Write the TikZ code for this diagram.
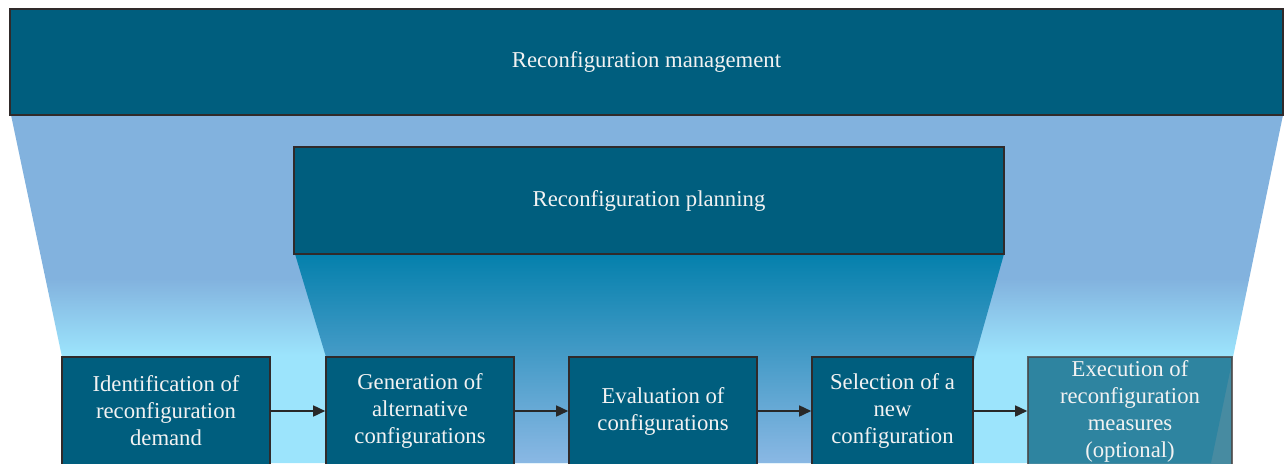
\documentclass[tikz,border=0pt]{standalone}
\usepackage{fontspec}
\setmainfont{Liberation Serif}
\usetikzlibrary{arrows.meta}
\definecolor{boxblue}{RGB}{0,94,126}
\definecolor{steelb}{RGB}{130,178,222}
\definecolor{cyanl}{RGB}{156,228,252}
\definecolor{innertop}{RGB}{4,128,172}
\definecolor{innerbot}{RGB}{138,184,228}
\definecolor{edgec}{RGB}{48,42,42}
\definecolor{txt}{RGB}{242,242,242}
\definecolor{arrowc}{RGB}{40,40,40}
\definecolor{execfill}{RGB}{10,100,130}
\pgfdeclareverticalshading{funnelshade}{100bp}{color(0bp)=(cyanl); color(40.5bp)=(cyanl); color(51.5bp)=(steelb); color(100bp)=(steelb)}
\begin{document}
\begin{tikzpicture}[x=1pt,y=-1pt,
  darkbox/.style={draw=edgec, line width=1.6pt, fill=boxblue, text=txt, align=center,
    inner sep=0pt, font=\fontsize{22.7}{27}\selectfont},
  stepbox/.style={darkbox, minimum height=108pt},
  execbox/.style={stepbox, fill=execfill, fill opacity=0.75, draw=edgec!70!gray, draw opacity=0.8, text opacity=1},
  arr/.style={draw=arrowc, line width=1.6pt, -{Triangle[length=12pt,width=11pt]}}
]
\useasboundingbox (0,0) rectangle (1284,463);
\clip (0,0) rectangle (1284,463);
% outer funnel
\shade[shading=funnelshade] (11,115) -- (1283,115) -- (1233,357) -- (1211,463) -- (84,463) -- (62,357) -- cycle;
% inner funnel
\shade[top color=innertop, bottom color=innerbot] (295,254) -- (1004,254) -- (975,357) -- (945,463) -- (358,463) -- (326,357) -- cycle;
% boxes
\node[darkbox, minimum width=1273pt, minimum height=106pt] (mgmt) at (646.5,62) {Reconfiguration management};
\node[darkbox, minimum width=710pt, minimum height=107pt] (plan) at (649,200.5) {Reconfiguration planning};
\node[stepbox, minimum width=208pt] (b1) at (166,411) {Identification of\\reconfiguration\\demand};
\node[stepbox, minimum width=188pt] (b2) at (420,411) {Generation of\\alternative\\configurations};
\node[stepbox, minimum width=188pt] (b3) at (663,411) {Evaluation of\\configurations};
\node[stepbox, minimum width=161pt] (b4) at (892.5,411) {Selection of a\\new\\configuration};
\node[execbox, minimum width=204pt] (b5) at (1130,411) {Execution of\\reconfiguration\\measures\\(optional)};
% arrows
\draw[arr] (b1) -- (b2);
\draw[arr] (b2) -- (b3);
\draw[arr] (b3) -- (b4);
\draw[arr] (b4) -- (b5);
\end{tikzpicture}
\end{document}
